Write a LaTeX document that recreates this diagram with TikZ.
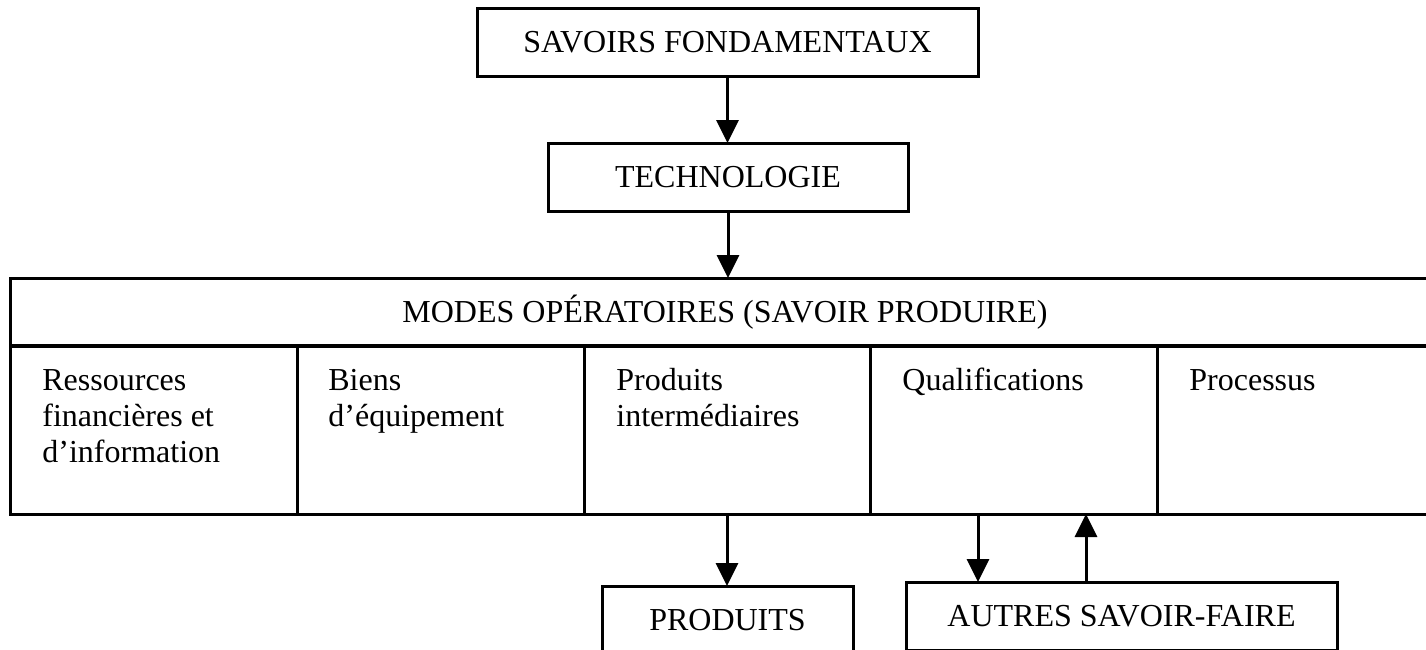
\documentclass[tikz,border=0pt]{standalone}
\usepackage{fontspec}
\setmainfont{Liberation Serif}
\usetikzlibrary{arrows.meta}
\begin{document}
\begin{tikzpicture}[x=0.5pt,y=-0.5pt,
  every node/.style={font=\fontsize{16}{18}\selectfont},
  box/.style={draw,line width=1.5pt,inner sep=0pt,outer sep=0pt,minimum height=34pt},
  cell/.style={box,minimum width=143.5pt,minimum height=84.5pt},
  txt/.style={anchor=north west,inner sep=0pt,align=left},
  arr/.style={line width=1.5pt,-{Triangle[width=11pt,length=11.5pt]}}]
\clip (0,0) rectangle (1426,649);
\node[box,minimum width=250.5pt] (sf) at (727.5,42) {SAVOIRS FONDAMENTAUX};
\node[box,minimum width=180pt] (tech) at (728,177) {TECHNOLOGIE};
\node[box,minimum width=715pt] (modes) at (725,312) {MODES OPÉRATOIRES (SAVOIR PRODUIRE)};
\node[cell] (c1) at (153.5,429.5) {};
\node[cell] (c2) at (440.5,429.5) {};
\node[cell,minimum width=143pt] (c3) at (727,429.5) {};
\node[cell] (c4) at (1013.5,429.5) {};
\node[cell,minimum width=141.5pt] (c5) at (1298.5,429.5) {};
\node[txt] (t1) at (42,366) {\rule{0pt}{12pt}Ressources\\financières et\\d’information};
\node[txt] (t2) at (328,366) {\rule{0pt}{12pt}Biens\\d’équipement};
\node[txt] (t3) at (616,366) {\rule{0pt}{12pt}Produits\\intermédiaires};
\node[txt] (t4) at (902,366) {\rule{0pt}{12pt}Qualifications};
\node[txt] (t5) at (1189,366) {\rule{0pt}{12pt}Processus};
\node[box,minimum width=125.5pt] (prod) at (727.5,620) {PRODUITS};
\node[box,minimum width=215.5pt] (autres) at (1121.5,616) {AUTRES SAVOIR-FAIRE};
\draw[arr] (sf.south) -- (sf.south |- tech.north);
\draw[arr] (tech.south) -- (tech.south |- modes.north);
\draw[arr] (c3.south) -- (c3.south |- prod.north);
\coordinate (aq) at ([xshift=36pt]autres.north west);
\coordinate (qa) at ([xshift=90pt]autres.north west);
\draw[arr] (aq |- c4.south) -- (aq);
\draw[arr] (qa) -- (qa |- c4.south);
\end{tikzpicture}
\end{document}
